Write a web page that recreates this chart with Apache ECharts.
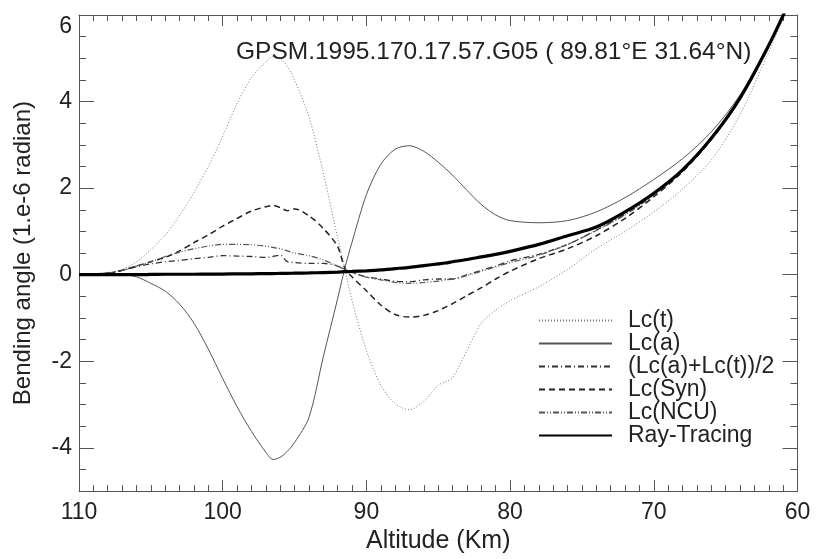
<!DOCTYPE html>
<html>
<head>
<meta charset="utf-8">
<script src="https://cdn.jsdelivr.net/npm/echarts@6/dist/echarts.min.js"></script>
<style>
html,body{margin:0;padding:0;background:#fff;}
#c{width:816px;height:559px;}
</style>
</head>
<body>
<div id="c"></div>
<script>
var altitude = [110,108,107,106,105,104,103,102,101,100,99,98,97,96.5,96,95.5,95,94,93,92,91.5,91,90,89,88,87,86,85,84.5,84,83,82,81,80,78,76,74,72,70,68,66,64,62,60.5];

var lcT = [0,0.05,0.12,0.3,0.58,0.92,1.37,1.9,2.5,3.2,3.95,4.55,4.92,5.04,5.0,4.82,4.5,3.65,2.35,0.85,0.15,-0.6,-1.75,-2.55,-2.98,-3.12,-2.92,-2.55,-2.48,-2.38,-1.75,-1.12,-0.82,-0.6,-0.28,0.12,0.6,1.0,1.45,1.98,2.65,3.7,5.15,6.3];

var lcA = [0,0,0,-0.05,-0.2,-0.38,-0.68,-1.12,-1.72,-2.4,-3.05,-3.62,-4.1,-4.27,-4.22,-4.08,-3.88,-3.3,-1.9,-0.55,0.15,0.75,1.85,2.55,2.9,2.98,2.85,2.6,2.45,2.3,1.95,1.62,1.38,1.25,1.2,1.25,1.45,1.78,2.2,2.68,3.3,4.15,5.33,6.37];

var lcAvg = [0,0.04,0.1,0.18,0.25,0.3,0.33,0.37,0.4,0.44,0.43,0.42,0.4,0.42,0.45,0.3,0.28,0.26,0.26,0.2,0.12,0.05,-0.05,-0.1,-0.15,-0.16,-0.12,-0.1,-0.1,-0.1,0.0,0.1,0.2,0.32,0.47,0.7,1.03,1.4,1.85,2.4,3.13,4.07,5.29,6.35];

var lcSyn = [0,0.03,0.1,0.2,0.3,0.4,0.55,0.74,0.92,1.12,1.3,1.47,1.57,1.6,1.55,1.48,1.52,1.36,1.07,0.65,0.15,-0.05,-0.37,-0.7,-0.92,-0.98,-0.94,-0.83,-0.75,-0.67,-0.48,-0.3,-0.1,0.08,0.37,0.6,0.9,1.3,1.8,2.38,3.12,4.06,5.28,6.35];

var lcNcu = [0,0.04,0.1,0.2,0.3,0.42,0.52,0.6,0.66,0.7,0.7,0.69,0.66,0.63,0.6,0.55,0.5,0.44,0.34,0.2,0.12,0.05,-0.06,-0.12,-0.18,-0.2,-0.18,-0.15,-0.12,-0.1,-0.02,0.08,0.18,0.28,0.45,0.7,1.02,1.38,1.84,2.4,3.13,4.07,5.29,6.35];

var rayTracing = [0,0,0,0,0.005,0.01,0.01,0.01,0.015,0.015,0.02,0.02,0.025,0.025,0.03,0.03,0.035,0.04,0.05,0.06,0.07,0.075,0.09,0.11,0.14,0.17,0.21,0.25,0.27,0.3,0.35,0.41,0.47,0.54,0.7,0.9,1.1,1.45,1.88,2.42,3.15,4.08,5.3,6.35];

var seriesNames = ['Lc(t)','Lc(a)','(Lc(a)+Lc(t))/2','Lc(Syn)','Lc(NCU)','Ray-Tracing'];
var yMajorTicks = [-4,-2,0,2,4,6];
var titleText = 'GPSM.1995.170.17.57.G05 ( 89.81\u00B0E 31.64\u00B0N)';

function pairs(vals){ return altitude.map(function(a,i){ return [a, vals[i]]; }); }

var FONT = 'Liberation Sans, Arial, Helvetica, sans-serif';
var AX = '#555';
var TXT = '#222';

var chart = echarts.init(document.getElementById('c'), null, {renderer:'canvas'});

function xAx(pos, labels){
  return {
    type:'value', position:pos, inverse:true, min:60, max:110, interval:10,
    axisLine:{show:true, onZero:false, lineStyle:{color:AX, width:1}},
    axisTick:{show:true, inside:true, length:11, lineStyle:{color:AX}},
    minorTick:{show:true, splitNumber:10, length:6, lineStyle:{color:AX}},
    splitLine:{show:false}, minorSplitLine:{show:false},
    axisLabel:{show:labels, fontSize:23, color:TXT, fontFamily:FONT, margin:10},
    name: labels ? 'Altitude (Km)' : '',
    nameLocation:'middle', nameGap:36,
    nameTextStyle:{fontSize:25, color:TXT, fontFamily:FONT}
  };
}
function yMinor(pos, withName){
  return {
    type:'value', position:pos, offset:0, min:-5, max:6, interval:0.5,
    axisLine:{show:true, onZero:false, lineStyle:{color:AX, width:1}},
    axisTick:{show:true, inside:true, length:7, lineStyle:{color:AX}},
    axisLabel:{show:false}, splitLine:{show:false},
    name: withName ? 'Bending angle (1.e-6 radian)' : '',
    nameLocation:'middle', nameGap:44,
    nameTextStyle:{fontSize:24, color:TXT, fontFamily:FONT}
  };
}
function yMajor(pos, labels){
  return {
    type:'value', position:pos, offset:0, min:-5, max:6, interval:1,
    axisLine:{show:false, onZero:false},
    axisTick:{show:true, inside:true, length:15, customValues:yMajorTicks, lineStyle:{color:AX}},
    axisLabel:{show:labels, customValues:yMajorTicks, fontSize:23, color:TXT, fontFamily:FONT, margin:7, verticalAlignMaxLabel:'top'},
    splitLine:{show:false}
  };
}

var styles = [
  {color:'#7a7a7a', width:1, type:[1,2]},
  {color:'#555', width:1, type:'solid'},
  {color:'#333', width:1.3, type:[6,3,1,3]},
  {color:'#222', width:1.5, type:[6,4]},
  {color:'#555', width:1.2, type:[6,2,1,2,1,2]},
  {color:'#000', width:3.2, type:'solid'}
];
var dataSets = [lcT, lcA, lcAvg, lcSyn, lcNcu, rayTracing];

var series = seriesNames.map(function(n,i){
  return {
    name:n, type:'line', xAxisIndex:0, yAxisIndex:0,
    data:pairs(dataSets[i]), symbol:'none', smooth:0.3, clip:true,
    lineStyle:styles[i], itemStyle:{color:styles[i].color},
    z: i===5 ? 5 : 3, animation:false
  };
});

chart.setOption({
  animation:false,
  backgroundColor:'#fff',
  textStyle:{fontFamily:FONT},
  grid:{left:79, right:18.5, top:15, bottom:65, containLabel:false},
  title:{text:titleText, left:236, top:40, padding:0,
    textStyle:{fontSize:24.5, fontWeight:'normal', color:TXT, fontFamily:FONT}},
  legend:{
    orient:'vertical', left:538, top:309, padding:0, itemGap:0,
    itemWidth:73, itemHeight:14,
    itemStyle:{opacity:0},
    data:seriesNames,
    textStyle:{fontSize:23, lineHeight:23, color:TXT, fontFamily:FONT, padding:[0,0,0,11]}
  },
  xAxis:[xAx('bottom', true), xAx('top', false)],
  yAxis:[yMinor('left', true), yMajor('left', true), yMinor('right', false), yMajor('right', false)],
  series:series
});
</script>
</body>
</html>
